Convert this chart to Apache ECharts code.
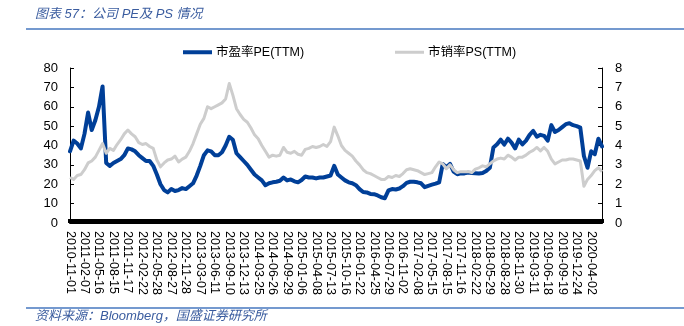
<!DOCTYPE html>
<html>
<head>
<meta charset="utf-8">
<style>
  html, body { margin: 0; padding: 0; background: #ffffff; }
  #chart { width: 684px; height: 326px; }
</style>
<script src="https://cdn.jsdelivr.net/npm/echarts@6/dist/echarts.min.js"></script>
</head>
<body>
<div id="chart"></div>
<script>
// Date labels shown on the category axis (one every four samples)
const tickLabels = [
  '2010-11-01','2011-02-07','2011-05-16','2011-08-15','2011-11-17','2012-02-22',
  '2012-05-28','2012-08-27','2012-11-28','2013-03-07','2013-06-11','2013-09-10',
  '2013-12-13','2014-03-25','2014-06-26','2014-09-29','2015-01-06','2015-04-08',
  '2015-07-13','2015-10-16','2016-01-22','2016-04-25','2016-07-29','2016-11-02',
  '2017-02-08','2017-05-15','2017-08-15','2017-11-16','2018-02-22','2018-05-29',
  '2018-08-28','2018-11-30','2019-03-11','2019-06-18','2019-09-19','2019-12-24',
  '2020-04-02'
];

// 市盈率 PE(TTM), left axis
const pe = [
  37, 42.5, 41, 38.5, 46, 57, 48, 53, 60, 70.5,
  31, 29.5, 31, 32, 33, 35, 38.5, 38, 37, 35,
  33.5, 32, 32, 29.5, 25, 20, 17, 15.8, 17.5, 16.5,
  17, 18, 17.5, 19, 20.5, 24.5, 29.5, 35, 37.5, 37,
  35, 35, 36.5, 40, 44.5, 43, 36, 34, 32, 30,
  27.5, 25, 23.5, 22, 19.5, 20.5, 21, 21.3, 21.8, 23.5,
  22, 22.5, 21.5, 21, 22.2, 24, 23.5, 23.5, 23, 23.5,
  23.5, 24, 24.5, 29.5, 25, 23.5, 22, 21, 20.5, 19.5,
  17.5, 16, 15.8, 15, 14.9, 14.2, 13.3, 12.8, 16.8, 17.5,
  17.3, 17.8, 19, 20.7, 21.3, 21.3, 21, 20.5, 18.5, 19.2,
  19.8, 20.3, 21, 30.5, 28.8, 30.5, 26.5, 25.2, 25.6, 25.6,
  26, 25.8, 25.7, 25.5, 25.8, 26.8, 28.5, 39, 40.6, 43,
  40.5, 43.5, 41.5, 38.5, 43, 40.6, 42.5, 45.5, 47.5, 44.5,
  45.5, 45, 42.5, 50.5, 47, 48, 49.5, 51, 51.5, 50.5,
  50, 49.2, 34.6, 28.5, 37, 35.5, 43.5, 39.5
];

// 市销率 PS(TTM), right axis
const ps = [
  2.35, 2.25, 2.45, 2.5, 2.75, 3.1, 3.2, 3.4, 3.75, 4.1,
  3.6, 3.85, 3.75, 4.05, 4.3, 4.6, 4.8, 4.6, 4.45, 4.15,
  4.05, 4.1, 3.95, 3.85, 3.25, 2.9, 3.1, 3.25, 3.3, 3.45,
  3.15, 3.3, 3.4, 3.7, 4.1, 4.6, 5.1, 5.4, 6.0, 5.9,
  6.0, 6.1, 6.2, 6.4, 7.2, 6.6, 5.9, 5.6, 5.35, 5.2,
  4.9, 4.55, 4.35, 4.0, 3.7, 3.4, 3.5, 3.45, 3.5, 3.9,
  3.65, 3.6, 3.7, 3.55, 3.5, 3.8, 3.85, 3.95, 3.9, 3.95,
  4.05, 3.95, 4.2, 4.95, 4.5, 4.0, 3.75, 3.6, 3.45, 3.2,
  3.0, 2.75, 2.6, 2.55, 2.45, 2.35, 2.25, 2.25, 2.4, 2.35,
  2.45, 2.4, 2.55, 2.75, 2.8, 2.75, 2.7, 2.6, 2.5, 2.55,
  2.6, 2.9, 3.15, 3.05, 2.8, 3.0, 2.75, 2.6, 2.65, 2.65,
  2.65, 2.6, 2.78, 2.85, 2.95, 2.9, 3.05, 3.2, 3.3, 3.35,
  3.3, 3.5, 3.4, 3.25, 3.4, 3.4, 3.5, 3.65, 3.75, 3.9,
  3.72, 3.9, 3.7, 3.3, 3.05, 3.15, 3.25, 3.25, 3.3, 3.3,
  3.25, 3.2, 1.9, 2.25, 2.45, 2.7, 2.85, 2.65
];

const seriesNames = ['市盈率PE(TTM)', '市销率PS(TTM)'];

// One category per sample; only every fourth one carries a date label
const categories = pe.map((_, i) => (i % 4 === 0 && tickLabels[i / 4]) ? tickLabels[i / 4] : '');

const latin = '"Liberation Sans", Arial, "Noto Sans CJK SC", sans-serif';
const cjk = '"Liberation Sans", "Noto Sans CJK SC", sans-serif';
const ruleColor = '#4677bf';
const headColor = '#3a5c9f';

const chart = echarts.init(document.getElementById('chart'), null, { renderer: 'canvas' });

chart.setOption({
  animation: false,
  backgroundColor: '#ffffff',
  grid: { left: 70, right: 82, top: 68, bottom: 103, containLabel: false },
  legend: [
    {
      left: 178, top: 41, icon: 'rect', itemWidth: 29, itemHeight: 4, itemGap: 0,
      data: [seriesNames[0]],
      textStyle: { fontSize: 12.5, color: '#000', fontFamily: cjk, padding: [0, 0, 0, -1] }
    },
    {
      left: 390, top: 41, icon: 'rect', itemWidth: 29, itemHeight: 3, itemGap: 0,
      data: [seriesNames[1]],
      textStyle: { fontSize: 12.5, color: '#000', fontFamily: cjk, padding: [0, 0, 0, -1] }
    }
  ],
  xAxis: {
    type: 'category',
    data: categories,
    boundaryGap: false,
    axisLine: { show: true, lineStyle: { color: '#000', width: 2 } },
    axisTick: { show: true, inside: true, length: 4, interval: 0, lineStyle: { color: '#000', width: 4 } },
    axisLabel: {
      interval: 3, rotate: -90, margin: 8, fontSize: 12.5, color: '#000', fontFamily: latin,
      hideOverlap: false
    },
    splitLine: { show: false }
  },
  yAxis: [
    {
      type: 'value', min: 0, max: 80, interval: 10, position: 'left',
      axisLine: { show: true, lineStyle: { color: '#000', width: 1 } },
      axisTick: { show: true, inside: true, length: 4, lineStyle: { color: '#000' } },
      axisLabel: { margin: 12, fontSize: 13, color: '#000', fontFamily: latin },
      splitLine: { show: false }
    },
    {
      type: 'value', min: 0, max: 8, interval: 1, position: 'right',
      axisLine: { show: true, lineStyle: { color: '#000', width: 1 } },
      axisTick: { show: true, inside: true, length: 4, lineStyle: { color: '#000' } },
      axisLabel: { margin: 13, fontSize: 13, color: '#000', fontFamily: latin },
      splitLine: { show: false }
    }
  ],
  series: [
    {
      name: seriesNames[0], type: 'line', yAxisIndex: 0, data: pe,
      showSymbol: false, symbol: 'none', z: 2,
      lineStyle: { color: '#003f98', width: 4, join: 'round', cap: 'round' },
      itemStyle: { color: '#003f98' }
    },
    {
      name: seriesNames[1], type: 'line', yAxisIndex: 1, data: ps,
      showSymbol: false, symbol: 'none', z: 3,
      lineStyle: { color: '#cdcdcd', width: 3, join: 'round' },
      itemStyle: { color: '#cdcdcd' }
    }
  ],
  graphic: [
    {
      type: 'text', left: 35, top: 8,
      style: {
        text: '图表 57：公司 PE及 PS 情况',
        font: 'italic 13px ' + cjk, fill: headColor
      }
    },
    {
      type: 'line', shape: { x1: 26, y1: 29, x2: 684, y2: 29 },
      style: { stroke: ruleColor, lineWidth: 1.5 }
    },
    {
      type: 'line', shape: { x1: 26, y1: 308, x2: 684, y2: 308 },
      style: { stroke: ruleColor, lineWidth: 1.5 }
    },
    {
      type: 'text', left: 35, top: 310,
      style: {
        text: '资料来源：Bloomberg，国盛证券研究所',
        font: 'italic 13px ' + cjk, fill: headColor
      }
    }
  ]
});
</script>
</body>
</html>
